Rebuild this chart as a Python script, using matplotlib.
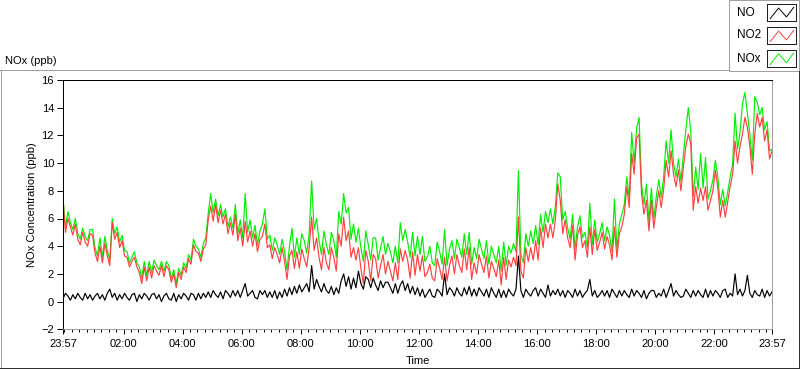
import numpy as np
import matplotlib
matplotlib.use("Agg")
import matplotlib.pyplot as plt
from matplotlib.lines import Line2D
from matplotlib.patches import Rectangle

W, H = 800, 369

# one reading every 5 minutes, counted from 23:57
minutes = np.arange(0, 1441, 5)

# NO (ppb), one row per hour
no = [
    0.2, 0.6, 0.4, 0.1, 0.5, 0.2, 0.6, 0.3, 0.1, 0.6, 0.2, 0.5,
    0.1, 0.4, 0.6, 0.2, 0.5, 0.1, 0.6, 0.9, 0.3, 0.6, 0.1, 0.5,
    0.2, 0.6, 0.3, 0.1, 0.5, 0.6, 0.0, 0.5, 0.2, 0.6, 0.4, 0.1,
    0.5, 0.6, 0.2, 0.5, 0.0, 0.4, 0.6, 0.2, 0.1, 0.6, 0.0, 0.5,
    0.2, 0.6, 0.4, 0.1, 0.6, 0.5, 0.1, 0.6, 0.2, 0.6, 0.3, 0.7,
    0.3, 0.8, 0.5, 0.3, 0.7, 0.2, 0.8, 0.6, 0.3, 0.8, 0.4, 0.8,
    0.3, 0.8, 1.3, 0.4, 0.6, 0.8, 0.3, 0.2, 0.8, 0.5, 0.8, 0.3,
    0.7, 0.3, 0.8, 0.2, 0.7, 0.3, 0.9, 0.4, 1.0, 0.5, 1.1, 0.6,
    1.2, 0.7, 1.0, 1.3, 0.7, 2.6, 0.9, 1.6, 1.1, 0.7, 1.3, 0.8,
    0.6, 1.1, 0.5, 1.0, 0.6, 1.5, 2.0, 1.1, 1.8, 0.9, 1.7, 1.0,
    2.2, 1.3, 0.9, 1.8, 1.6, 1.0, 1.7, 1.2, 0.8, 1.5, 1.0, 1.4,
    1.4, 1.0, 0.6, 1.3, 0.6, 1.2, 1.5, 0.8, 1.3, 0.6, 1.1, 0.5,
    1.0, 0.4, 0.9, 0.3, 0.6, 0.9, 0.4, 0.3, 0.9, 0.7, 0.4, 2.0,
    0.5, 1.0, 0.8, 0.4, 1.0, 0.6, 0.4, 1.0, 0.5, 1.1, 0.4, 0.9,
    0.4, 1.0, 0.7, 0.4, 0.9, 0.3, 1.0, 0.6, 0.3, 0.9, 0.3, 0.8,
    0.3, 0.9, 0.6, 0.4, 0.9, 3.3, 0.8, 0.3, 0.9, 0.6, 0.4, 0.8,
    1.0, 0.4, 0.9, 0.6, 0.3, 1.2, 0.4, 0.8, 0.5, 0.9, 0.4, 0.8,
    0.3, 0.8, 0.6, 0.3, 0.9, 0.4, 0.8, 0.3, 0.6, 0.8, 1.6, 0.4,
    0.8, 0.3, 0.5, 0.8, 0.4, 0.8, 0.3, 0.9, 0.6, 0.3, 0.8, 0.4,
    0.8, 0.5, 0.3, 0.9, 0.4, 0.8, 0.6, 0.3, 0.8, 0.2, 0.6, 0.8,
    0.8, 0.3, 0.6, 0.4, 0.9, 0.3, 0.8, 1.3, 0.4, 0.8, 0.5, 0.3,
    0.4, 0.9, 0.6, 0.3, 0.8, 0.4, 0.8, 0.5, 0.3, 0.9, 0.3, 0.8,
    0.4, 0.8, 0.6, 0.3, 0.8, 0.9, 0.3, 0.6, 0.4, 2.0, 0.5, 0.9,
    0.4, 0.8, 1.9, 0.6, 0.3, 0.8, 0.5, 0.4, 0.9, 0.3, 0.8, 0.4,
    0.7,
]

# NO2 (ppb)
no2 = [
    7.4, 5.0, 6.0, 5.4, 4.8, 5.6, 4.5, 4.1, 5.0, 4.3, 4.0, 4.9,
    4.8, 3.5, 2.9, 4.0, 2.8, 4.2, 3.3, 2.6, 5.7, 4.5, 5.0, 3.9,
    4.4, 3.3, 3.2, 2.5, 2.9, 3.2, 2.5, 2.1, 1.3, 2.5, 1.5, 2.5,
    1.7, 2.6, 2.2, 1.9, 2.6, 1.8, 2.6, 2.3, 1.4, 2.0, 1.0, 2.1,
    1.6, 2.5, 2.1, 3.1, 2.7, 4.1, 3.6, 3.5, 2.9, 3.8, 4.1, 5.9,
    6.9, 5.8, 7.0, 5.7, 6.6, 5.6, 6.3, 4.9, 5.7, 4.8, 6.3, 4.4,
    5.3, 4.0, 5.8, 4.3, 5.1, 4.0, 4.9, 3.6, 4.5, 4.7, 5.6, 3.9,
    4.1, 3.1, 3.9, 3.4, 2.8, 3.9, 2.9, 1.6, 3.3, 3.7, 2.4, 3.6,
    2.4, 3.8, 3.1, 2.5, 3.9, 6.1, 3.7, 4.6, 3.2, 2.3, 3.9, 2.8,
    2.3, 3.9, 3.2, 2.2, 4.9, 4.0, 6.1, 4.4, 5.1, 3.2, 3.9, 3.0,
    3.9, 2.4, 1.3, 3.7, 2.9, 1.5, 3.4, 3.1, 1.7, 2.6, 3.4, 2.0,
    2.9, 2.2, 1.5, 2.8, 1.6, 3.8, 2.9, 3.7, 3.0, 1.7, 3.6, 1.9,
    3.4, 2.2, 3.3, 1.8, 2.1, 2.7, 1.7, 1.5, 3.1, 2.4, 1.6, 3.2,
    1.5, 2.6, 3.3, 2.0, 3.4, 2.6, 2.1, 3.8, 2.3, 3.9, 1.6, 2.8,
    2.0, 3.4, 2.7, 2.1, 3.3, 1.7, 2.9, 2.4, 1.8, 3.0, 1.2, 3.2,
    1.6, 3.0, 2.5, 3.2, 2.6, 6.1, 2.2, 1.7, 3.9, 2.9, 3.9, 3.0,
    4.4, 3.0, 5.3, 3.9, 5.6, 4.6, 5.6, 4.6, 5.9, 8.5, 7.3, 4.9,
    5.9, 4.6, 3.9, 5.5, 3.0, 4.8, 5.4, 3.9, 4.4, 3.2, 5.4, 3.4,
    5.2, 3.7, 4.3, 5.0, 3.8, 4.7, 4.1, 3.0, 5.4, 3.2, 4.9, 5.4,
    6.3, 8.3, 6.8, 10.7, 9.2, 11.8, 12.1, 7.8, 6.3, 7.3, 5.1, 7.3,
    5.3, 6.8, 8.0, 6.8, 8.1, 10.2, 9.0, 10.9, 9.2, 8.3, 9.5, 8.0,
    9.7, 11.2, 12.1, 11.4, 6.6, 8.3, 7.1, 8.2, 7.3, 8.3, 6.6, 7.3,
    8.0, 9.5, 8.2, 6.1, 7.3, 6.1, 7.2, 8.3, 9.2, 11.6, 10.0, 11.2,
    12.1, 13.3, 12.6, 11.2, 9.2, 12.1, 13.6, 12.6, 13.3, 11.6, 12.4, 10.3,
    10.9,
]

# NOx (ppb)
nox = [
    7.5, 5.4, 6.5, 5.7, 5.2, 6.0, 4.9, 4.5, 5.3, 4.7, 4.4, 5.2,
    5.2, 3.9, 3.3, 4.6, 3.2, 4.7, 3.7, 3.0, 6.0, 4.9, 5.4, 4.3,
    4.8, 3.7, 3.6, 2.8, 3.2, 3.6, 2.8, 2.5, 1.7, 2.9, 1.9, 2.9,
    2.1, 3.0, 2.6, 2.3, 2.9, 2.2, 2.9, 2.6, 1.7, 2.3, 1.3, 2.4,
    1.9, 2.8, 2.4, 3.4, 3.0, 4.5, 4.0, 3.8, 3.2, 4.2, 4.6, 6.4,
    7.8, 6.4, 7.4, 6.2, 7.0, 6.1, 6.7, 5.4, 6.1, 5.3, 7.0, 4.9,
    5.9, 4.6, 7.8, 5.0, 5.9, 4.6, 5.5, 4.1, 5.1, 5.6, 6.7, 4.5,
    4.8, 3.7, 4.6, 4.1, 3.4, 4.5, 3.6, 2.3, 4.0, 5.3, 3.2, 4.6,
    3.4, 4.9, 4.4, 3.5, 4.9, 8.7, 5.2, 6.0, 4.4, 3.4, 5.1, 4.1,
    3.4, 5.0, 4.4, 3.2, 6.5, 5.6, 7.8, 6.4, 6.8, 4.5, 5.6, 4.3,
    5.3, 3.9, 2.9, 5.1, 4.1, 3.0, 4.6, 4.6, 3.0, 3.9, 4.7, 3.4,
    4.2, 3.6, 2.8, 4.0, 2.8, 5.7, 4.4, 5.2, 4.3, 3.2, 5.0, 3.3,
    4.7, 3.4, 4.7, 2.9, 3.2, 4.0, 2.8, 2.6, 4.3, 3.6, 2.7, 5.2,
    2.6, 3.8, 4.4, 3.1, 4.5, 3.9, 3.2, 4.9, 3.4, 5.0, 2.7, 3.9,
    3.1, 4.5, 3.8, 3.1, 4.4, 2.7, 4.0, 3.4, 2.8, 4.0, 2.2, 4.3,
    2.6, 4.0, 3.5, 4.2, 3.6, 9.45, 3.4, 2.8, 4.9, 4.0, 5.1, 4.2,
    5.5, 4.1, 6.3, 5.0, 6.5, 5.7, 6.7, 5.6, 6.9, 9.3, 9.0, 5.9,
    6.5, 5.3, 4.5, 6.3, 3.8, 5.4, 6.2, 4.6, 5.0, 3.9, 7.1, 4.1,
    5.9, 4.3, 4.9, 5.7, 4.4, 5.4, 4.8, 3.6, 7.4, 3.8, 5.6, 6.3,
    7.0, 9.0, 7.5, 12.2, 10.0, 12.5, 13.3, 8.5, 7.0, 8.5, 5.8, 8.2,
    6.0, 7.6, 8.8, 7.5, 9.0, 11.6, 10.0, 12.4, 10.0, 9.0, 10.3, 8.7,
    10.6, 12.4, 14.0, 12.3, 7.6, 9.7, 8.1, 10.7, 8.2, 10.4, 7.4, 8.0,
    8.8, 10.2, 9.0, 7.0, 8.1, 6.9, 7.9, 9.0, 9.9, 13.6, 11.0, 12.2,
    14.3, 15.1, 13.6, 12.1, 10.2, 14.8, 14.4, 13.5, 14.0, 12.4, 13.0, 10.9,
    11.0,
]

series_names = ["NO", "NO2", "NOx"]
series_colors = ["#000000", "#ff4040", "#00ee00"]

time_labels = ["23:57", "02:00", "04:00", "06:00", "08:00", "10:00", "12:00",
               "14:00", "16:00", "18:00", "20:00", "22:00", "23:57"]
y_ticks = [-2, 0, 2, 4, 6, 8, 10, 12, 14, 16]

# clock label -> minutes after the 23:57 start
start = 23 * 60 + 57
tick_pos = [(int(s[:2]) * 60 + int(s[3:]) - start) % 1440 for s in time_labels]
tick_pos[-1] = 1440
minor_pos = [m for m in range(3, 1440, 15) if m not in tick_pos]

plt.rcParams["font.family"] = ["Liberation Sans", "DejaVu Sans"]
plt.rcParams["font.size"] = 8

fig = plt.figure(figsize=(W / 100, H / 100), dpi=100)
fig.patch.set_facecolor("white")


def fx(x):
    return x / W


def fy(y):
    return 1 - y / H


px = 0.72  # one pixel in points

# panel frame
grey = "#a0a0a0"
dark = "#303030"
fig.add_artist(Line2D([fx(0), fx(729)], [fy(69.5)] * 2, color=grey, lw=px))
fig.add_artist(Line2D([fx(0.5)] * 2, [fy(69.5), fy(367.5)], color=grey, lw=px))
fig.add_artist(Line2D([fx(0), fx(799)], [fy(367.5)] * 2, color=dark, lw=px))
fig.add_artist(Line2D([fx(798.5)] * 2, [fy(71), fy(368)], color=dark, lw=px))

fig.text(fx(5), fy(61), "NOx (ppb)", ha="left", va="center", fontsize=8)

# plot area
ax = fig.add_axes([fx(63), fy(329.3), (772 - 63) / W, (329.3 - 80) / H])
ax.plot(minutes, nox, color=series_colors[2], lw=0.85, zorder=1)
ax.plot(minutes, no2, color=series_colors[1], lw=0.85, zorder=2)
ax.plot(minutes, no, color=series_colors[0], lw=0.85, zorder=3)

ax.set_xlim(0, 1440)
ax.set_ylim(-2, 16)
ax.set_yticks(y_ticks)
ax.set_xticks(tick_pos)
ax.set_xticklabels(time_labels)
ax.set_xticks(minor_pos, minor=True)

for side in ["left", "top"]:
    ax.spines[side].set_color("black")
    ax.spines[side].set_linewidth(px)
for side in ["right", "bottom"]:
    ax.spines[side].set_color(grey)
    ax.spines[side].set_linewidth(px)

ax.tick_params(axis="y", direction="out", length=4.3, width=px, pad=2.2, labelsize=8)
ax.tick_params(axis="x", which="major", direction="out", length=3.6, width=px, pad=3.5, labelsize=8)
ax.tick_params(axis="x", which="minor", direction="out", length=1.8, width=px)

ax.set_ylabel("NOx Concentration (ppb)", fontsize=8)
ax.yaxis.set_label_coords(-0.0367, 0.5)
ax.set_xlabel("Time", fontsize=8, va="top")
ax.xaxis.set_label_coords(0.5, -0.108)

# legend panel, top right
fig.add_artist(Rectangle((fx(728.5), fy(71)), fx(799) - fx(728.5), 71 / H,
                         facecolor="white", edgecolor=grey, lw=px,
                         transform=fig.transFigure, zorder=-1))
icon_rows = [(13, 4, 21), (35.5, 27, 44), (58.5, 49.5, 67)]
for name, color, (ty, top, bot) in zip(series_names, series_colors, icon_rows):
    fig.text(fx(737), fy(ty), name, ha="left", va="center", fontsize=8.5)
    iax = fig.add_axes([fx(767), fy(bot), 29 / W, (bot - top) / H])
    iax.set_zorder(2)
    iax.set_xlim(0, 1)
    iax.set_ylim(0, 1)
    iax.set_xticks([])
    iax.set_yticks([])
    for sp in iax.spines.values():
        sp.set_color("#202020")
        sp.set_linewidth(px)
    iax.plot([0.11, 0.4, 0.67, 0.92], [0.14, 0.76, 0.24, 0.8], color=color, lw=0.7)

fig.savefig("out.png", dpi=100)
